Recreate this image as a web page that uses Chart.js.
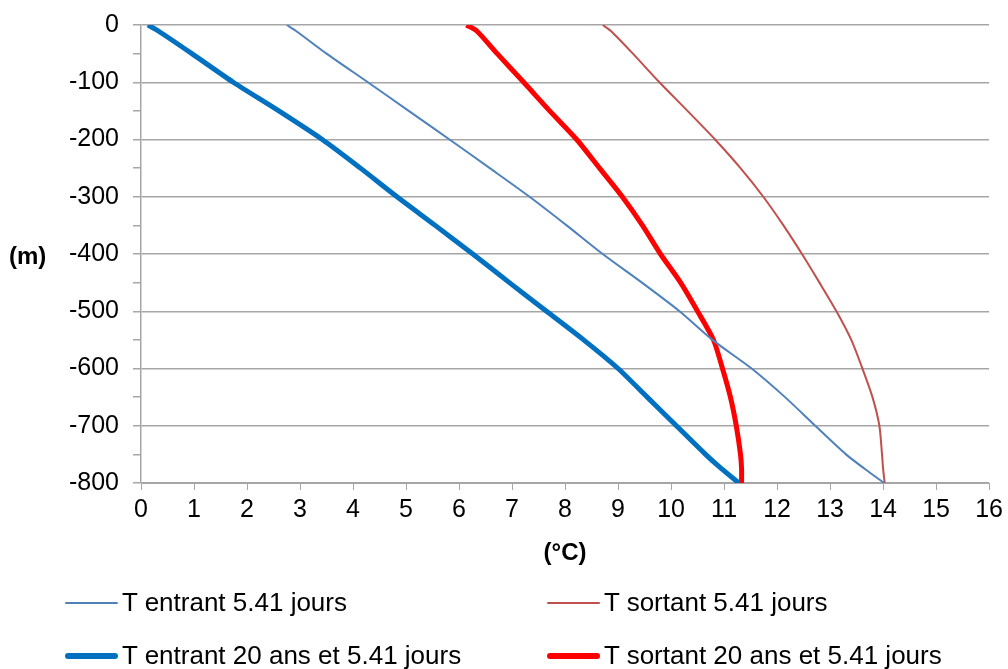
<!DOCTYPE html>
<html lang="fr">
<head>
  <meta charset="UTF-8" />
  <title>Température en fonction de la profondeur</title>
  <script src="https://cdn.jsdelivr.net/npm/chart.js"></script>
  <style>
    body {
      margin: 0;
      background: #fff;
      font-family: "Liberation Sans", Arial, sans-serif;
    }
    .wrap {
      position: relative;
      width: 1008px;
      height: 669px;
    }
    #yTitle {
      position: absolute;
      left: 9px;
      top: 242px;
      font-size: 24px;
      font-weight: bold;
      color: #000;
    }
    .legend-item {
      position: absolute;
      display: flex;
      align-items: center;
      font-size: 26px;
      color: #000;
      white-space: nowrap;
    }
    .swatch {
      width: 53px;
      margin-right: 4px;
      border-radius: 3px;
    }
  </style>
</head>
<body>
  <div class="wrap">
    <canvas id="depthChart" width="1008" height="669"></canvas>
    <div id="yTitle">(m)</div>
    <div id="legend"></div>
  </div>

  <script>
  // profondeur (m)
  const depths = [0, -10, -50, -100, -150, -200, -250, -300, -350, -400, -450, -500, -550, -600, -650, -700, -750, -775, -800];

  // températures (°C)
  const tEntrant = [2.75, 2.92, 3.5, 4.28, 5.05, 5.82, 6.58, 7.33, 8.03, 8.71, 9.45, 10.16, 10.78, 11.52, 12.15, 12.72, 13.3, 13.65, 14.02];
  const tSortant = [8.71, 8.86, 9.28, 9.78, 10.31, 10.83, 11.31, 11.74, 12.12, 12.47, 12.8, 13.12, 13.4, 13.61, 13.8, 13.93, 13.98, 14.0, 14.03];
  const tEntrant20 = [0.13, 0.32, 0.96, 1.74, 2.6, 3.42, 4.14, 4.83, 5.55, 6.26, 6.95, 7.65, 8.35, 9.0, 9.55, 10.1, 10.65, 10.95, 11.28];
  const tSortant20 = [6.14, 6.33, 6.72, 7.22, 7.71, 8.22, 8.65, 9.08, 9.46, 9.8, 10.18, 10.5, 10.8, 10.97, 11.12, 11.23, 11.31, 11.33, 11.33];

  const xTicks = [0, 16, 1];      // min, max, pas
  const yTicks = [-800, 0, 100];  // min, max, pas

  const series = [
    { label: "T entrant 5.41 jours", values: tEntrant, color: "#4F81BD", width: 2 },
    { label: "T sortant 5.41 jours", values: tSortant, color: "#C0504D", width: 2 },
    { label: "T entrant 20 ans et 5.41 jours", values: tEntrant20, color: "#0070C0", width: 5 },
    { label: "T sortant 20 ans et 5.41 jours", values: tSortant20, color: "#FF0000", width: 5 }
  ];

  const gridColor = "#a6a6a6";

  function toPoints(values) {
    return values.map((t, i) => ({ x: t, y: depths[i] }));
  }

  const datasets = series.map(s => ({
    label: s.label,
    data: toPoints(s.values),
    borderColor: s.color,
    backgroundColor: s.color,
    borderWidth: s.width,
    pointRadius: 0,
    showLine: true,
    tension: 0.25,
    fill: false
  }));

  new Chart(document.getElementById("depthChart"), {
    type: "scatter",
    data: { datasets },
    options: {
      responsive: false,
      animation: false,
      devicePixelRatio: 1,
      layout: { padding: { left: 0, right: 18, top: 25, bottom: 97 } },
      plugins: {
        legend: { display: false },
        tooltip: { enabled: false }
      },
      scales: {
        x: {
          type: "linear",
          min: xTicks[0],
          max: xTicks[1],
          ticks: {
            stepSize: xTicks[2],
            color: "#000",
            font: { family: "Liberation Sans", size: 25 },
            padding: 5
          },
          grid: {
            drawOnChartArea: false,
            tickLength: 7,
            tickColor: gridColor
          },
          border: { color: gridColor, width: 1 },
          title: {
            display: true,
            text: "(°C)",
            color: "#000",
            font: { family: "Liberation Sans", size: 24, weight: "bold" },
            padding: { top: 4 }
          },
          afterFit: scale => { scale.height = 89; }
        },
        y: {
          type: "linear",
          min: yTicks[0],
          max: yTicks[1],
          ticks: {
            stepSize: yTicks[2] / 2,
            autoSkip: false,
            color: "#000",
            font: { family: "Liberation Sans", size: 25 },
            padding: 14,
            callback: v => (v % yTicks[2] === 0 ? String(v) : "")
          },
          grid: {
            color: c => (c.tick && c.tick.value % yTicks[2] === 0 ? gridColor : "rgba(0,0,0,0)"),
            tickColor: gridColor,
            tickLength: 8,
            lineWidth: 1.5
          },
          border: { color: gridColor, width: 1.5 },
          afterFit: scale => {
            scale.width = 141;
            scale.paddingTop = 0;
            scale.paddingBottom = 0;
          }
        }
      }
    }
  });

  // légende sur deux colonnes
  const legendDiv = document.getElementById("legend");
  const legendPos = [
    { left: 65, top: 587 },
    { left: 547, top: 587 },
    { left: 65, top: 640 },
    { left: 547, top: 640 }
  ];
  series.forEach((s, i) => {
    const item = document.createElement("div");
    item.className = "legend-item";
    item.style.left = legendPos[i].left + "px";
    item.style.top = legendPos[i].top + "px";
    const sw = document.createElement("span");
    sw.className = "swatch";
    sw.style.height = (s.width === 2 ? 2 : 6) + "px";
    sw.style.background = s.color;
    item.appendChild(sw);
    item.appendChild(document.createTextNode(s.label));
    legendDiv.appendChild(item);
  });
  </script>
</body>
</html>
